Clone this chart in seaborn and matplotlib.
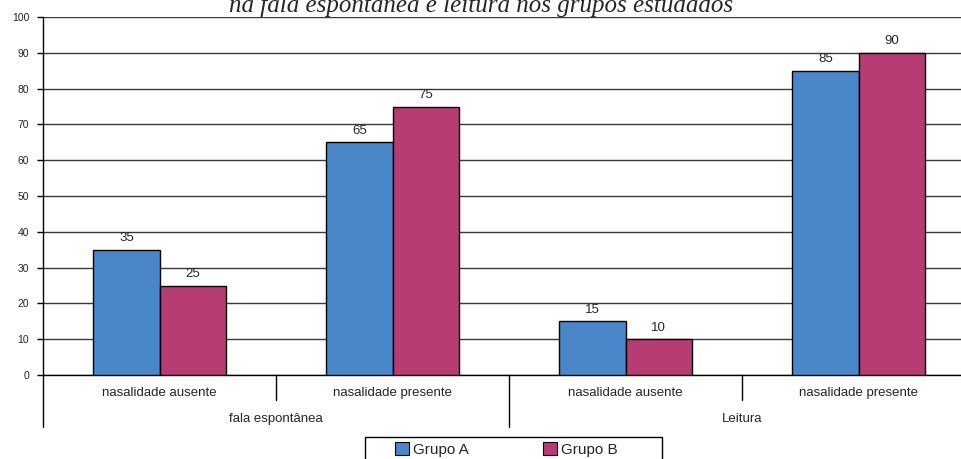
import matplotlib
matplotlib.use("Agg")
import matplotlib.pyplot as plt
import matplotlib.transforms as mtransforms
from matplotlib.patches import Patch, Rectangle
import seaborn as sns
import pandas as pd

# Chart data
contexts = ["fala espontânea", "Leitura"]
nasality = ["nasalidade ausente", "nasalidade presente"]
groups = ["Grupo A", "Grupo B"]
grupo_a = [35, 65, 15, 85]
grupo_b = [25, 75, 10, 90]
yticks = [0, 10, 20, 30, 40, 50, 60, 70, 80, 90, 100]
title_text = "na fala espontânea e leitura nos grupos estudados"
colors = ["#4a87c8", "#b63c73"]

cats = [f"{c}|{n}" for c in contexts for n in nasality]
df = pd.DataFrame({
    "cat": cats * 2,
    "grupo": [groups[0]] * 4 + [groups[1]] * 4,
    "valor": grupo_a + grupo_b,
})

sns.set_style("white")
plt.rcParams["font.family"] = ["Liberation Sans", "DejaVu Sans"]

W, H = 962, 459
fig = plt.figure(figsize=(W / 100, H / 100), dpi=100)
ax_left, ax_right, ax_top, ax_bot = 43, 975, 17, 375
ax = fig.add_axes([ax_left / W, 1 - ax_bot / H, (ax_right - ax_left) / W, (ax_bot - ax_top) / H])

sns.barplot(data=df, x="cat", y="valor", hue="grupo", order=cats, hue_order=groups,
            palette=colors, width=0.567, edgecolor="black", linewidth=1.0,
            saturation=1, legend=False, ax=ax, zorder=3)

ax.set_xlim(-0.5, len(cats) - 0.5)
ax.set_ylim(0, 100)
ax.set_yticks(yticks)
ax.set_yticklabels([str(v) for v in yticks], fontsize=7.5)
ax.tick_params(axis="y", length=4, width=1, color="black", direction="out", pad=6, left=True)
ax.tick_params(axis="x", bottom=False, labelbottom=False)
ax.set_xlabel("")
ax.set_ylabel("")
ax.yaxis.grid(True, color="#3a3a3a", linewidth=1)
ax.set_axisbelow(True)
for side in ["top", "right"]:
    ax.spines[side].set_visible(False)
for side in ["left", "bottom"]:
    ax.spines[side].set_color("black")
    ax.spines[side].set_linewidth(1)

# Value labels above the bars
for cont in ax.containers:
    ax.bar_label(cont, labels=[f"{int(v.get_height())}" for v in cont], padding=4, fontsize=9.5)

# Hierarchical category axis below the plot
trans = mtransforms.blended_transform_factory(ax.transData, ax.transAxes)
axh = ax_bot - ax_top
short = -25 / axh
long_ = -52 / axh
for i, x in enumerate([-0.5, 0.5, 1.5, 2.5, 3.5]):
    y0 = long_ if i % 2 == 0 else short
    ax.plot([x, x], [0, y0], transform=trans, color="black", lw=1, clip_on=False)
for i, c in enumerate(cats):
    ax.text(i, -18 / axh, c.split("|")[1], transform=trans, ha="center", va="center", fontsize=9.5)
for j, c in enumerate(contexts):
    ax.text(2 * j + 0.5, -44 / axh, c, transform=trans, ha="center", va="center", fontsize=9.5)

# Title (upper line runs past the figure edge)
fig.text(481 / W, 1 - 12 / H, title_text, ha="center", va="baseline",
         family="Liberation Serif", style="italic", fontsize=18)

# Legend box extends below the figure edge
fig.patches.append(Rectangle((365 / W, -0.05), (662 - 365) / W, 0.05 + (H - 437) / H,
                             transform=fig.transFigure, fill=False, edgecolor="black",
                             linewidth=1, figure=fig))
handles = [Patch(facecolor=colors[k], edgecolor="black", linewidth=0.8) for k in range(2)]
leg = fig.legend(handles, groups, loc="upper left", bbox_to_anchor=(395 / W, 1 - 442 / H),
                 ncol=2, frameon=False, fontsize=11,
                 handlelength=0.9, handleheight=0.9, handletextpad=0.25, columnspacing=4.9,
                 borderpad=0.0, borderaxespad=0)

fig.savefig("out.png", dpi=100)
